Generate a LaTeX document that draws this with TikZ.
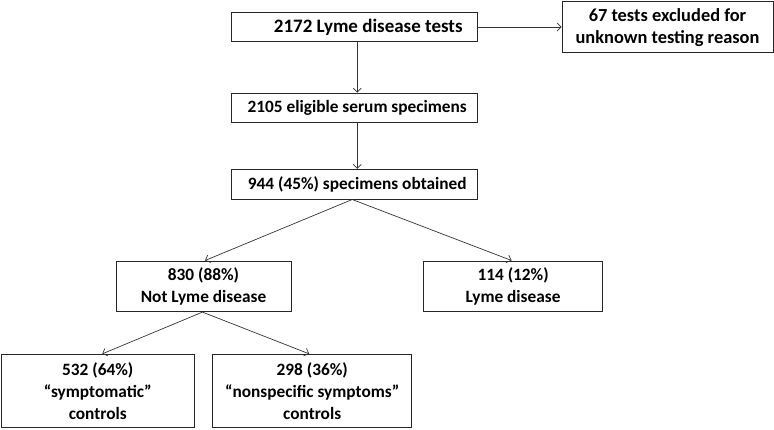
\documentclass[tikz,border=0pt]{standalone}
\usepackage{fontspec}
\setmainfont{Carlito}
\usetikzlibrary{arrows.meta}
\begin{document}
\begin{tikzpicture}[x=1pt,y=-1pt,
  box/.style={draw=black!85,line width=0.9pt,inner sep=0pt,align=center,
    font=\bfseries\fontsize{17.3}{22}\selectfont},
  conn/.style={draw=black!80,line width=0.7pt,-{Straight Barb[length=4pt,width=8pt]}}]
\useasboundingbox (0,0) rectangle (774,429);
\node[box,minimum width=246.5pt,minimum height=29.4pt,font=\bfseries\fontsize{19}{22}\selectfont] (A) at (354.25,27) {\hspace*{28pt}2172 Lyme disease tests};
\node[box,minimum width=211pt,minimum height=51pt,font=\bfseries\fontsize{18.4}{22}\selectfont] (B) at (667.5,27.2) {67 tests excluded for\\unknown testing reason};
\node[box,minimum width=246.5pt,minimum height=29.7pt] (C) at (354.25,107.9) {\hspace*{6pt}2105 eligible serum specimens};
\node[box,minimum width=246.5pt,minimum height=29.7pt] (D) at (354.25,184.2) {\hspace*{6pt}944 (45\%) specimens obtained};
\node[box,minimum width=175pt,minimum height=50.7pt] (E) at (203.5,286.3) {830 (88\%)\\Not Lyme disease};
\node[box,minimum width=179pt,minimum height=50.7pt] (F) at (513.1,286.3) {114 (12\%)\\Lyme disease};
\node[box,minimum width=192.5pt,minimum height=73.4pt] (G) at (97.75,391) {532 (64\%)\\“symptomatic”\\controls};
\node[box,minimum width=199.2pt,minimum height=73.4pt] (H) at (312.2,391) {298 (36\%)\\“nonspecific symptoms”\\controls};
\draw[conn] (A.east) -- (B.west |- A.east);
\draw[conn] ([xshift=3pt]A.south) -- ([xshift=3pt]C.north);
\draw[conn] ([xshift=3pt]C.south) -- ([xshift=3pt]D.north);
\draw[conn] ([xshift=-2pt]D.south) -- ([xshift=1.5pt]E.north);
\draw[conn] ([xshift=-2pt]D.south) -- ([xshift=-1.5pt]F.north);
\draw[conn] ([xshift=-1pt]E.south) -- ([xshift=4.5pt]G.north);
\draw[conn] ([xshift=-1pt]E.south) -- ([xshift=-3pt]H.north);
\end{tikzpicture}
\end{document}
